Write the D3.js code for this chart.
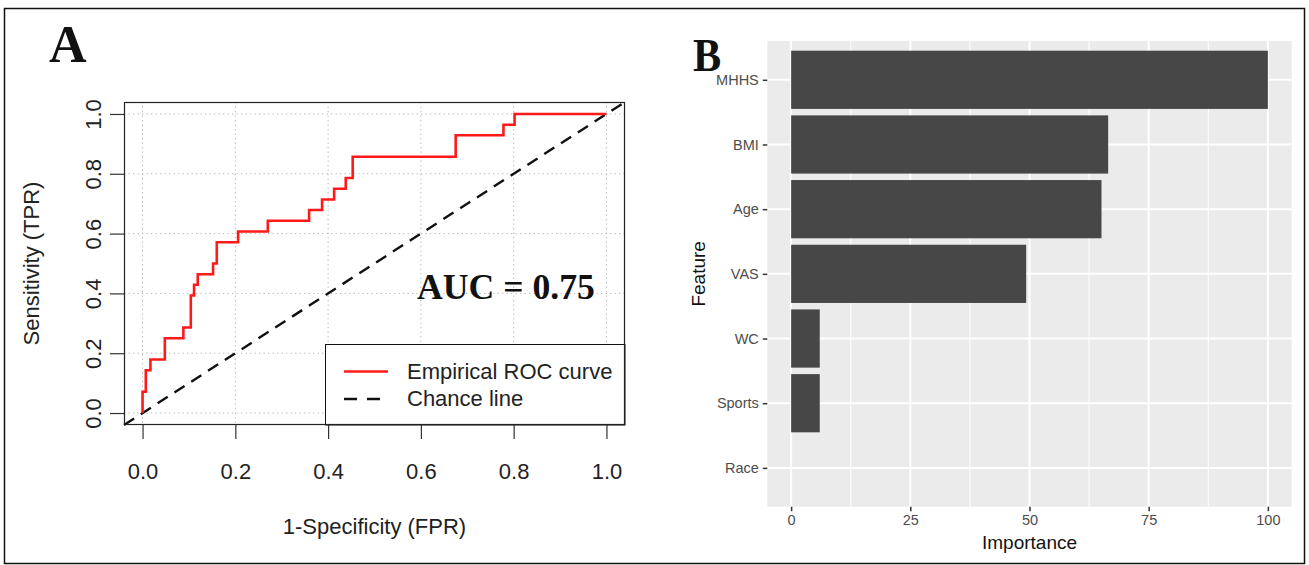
<!DOCTYPE html>
<html>
<head>
<meta charset="utf-8">
<script src="https://cdn.jsdelivr.net/npm/d3@7"></script>
<style>
  body { margin: 0; background: #fff; }
  text { font-family: "Liberation Sans", Arial, sans-serif; }
  .serif { font-family: "Liberation Serif", "Times New Roman", serif; font-weight: bold; }
</style>
</head>
<body>
<div id="chart"></div>
<script>
var width = 1309
var height = 565

// panel A: empirical ROC curve, corners of the step curve
var rocFpr = [0, 0, 0.007, 0.007, 0.017, 0.017, 0.048, 0.048, 0.088, 0.088, 0.104, 0.104,
  0.111, 0.111, 0.119, 0.119, 0.152, 0.152, 0.16, 0.16, 0.206, 0.206, 0.27, 0.27,
  0.359, 0.359, 0.387, 0.387, 0.413, 0.413, 0.438, 0.438, 0.453, 0.453, 0.675, 0.675,
  0.778, 0.778, 0.802, 0.802, 1]
var rocTpr = [0, 0.071, 0.071, 0.143, 0.143, 0.179, 0.179, 0.25, 0.25, 0.286, 0.286, 0.393,
  0.393, 0.429, 0.429, 0.464, 0.464, 0.5, 0.5, 0.571, 0.571, 0.607, 0.607, 0.643,
  0.643, 0.679, 0.679, 0.714, 0.714, 0.75, 0.75, 0.786, 0.786, 0.857, 0.857, 0.929,
  0.929, 0.964, 0.964, 1, 1]
var rocTicks = [0, 0.2, 0.4, 0.6, 0.8, 1.0]
var aucLabel = 'AUC = 0.75'
var legendLabels = ['Empirical ROC curve', 'Chance line']

// panel B: feature importance
var features = ['MHHS', 'BMI', 'Age', 'VAS', 'WC', 'Sports', 'Race']
var importance = [100, 66.5, 65.1, 49.3, 6.0, 6.0, 0]
var impTicks = [0, 25, 50, 75, 100]
var impMinor = [12.5, 37.5, 62.5, 87.5]

var svg = d3.select('#chart')
  .append('svg')
  .attr('width', width)
  .attr('height', height)

// outer frame
svg.append('rect')
  .attr('x', 4.5).attr('y', 8.5)
  .attr('width', 1300).attr('height', 555)
  .attr('fill', 'none')
  .attr('stroke', '#111')
  .attr('stroke-width', 1.5)

// ---------- panel A ----------
var boxA = {left: 124, right: 625, top: 102, bottom: 425}
var x = d3.scaleLinear().domain([-0.04, 1.04]).range([boxA.left, boxA.right])
var y = d3.scaleLinear().domain([-0.04, 1.04]).range([boxA.bottom, boxA.top])

var gA = svg.append('g')

// dotted grid
gA.selectAll('.vgrid')
  .data(rocTicks)
  .enter().append('line')
  .attr('x1', function(d) { return x(d) }).attr('x2', function(d) { return x(d) })
  .attr('y1', boxA.top).attr('y2', boxA.bottom)
  .attr('stroke', '#b5b5b5').attr('stroke-dasharray', '1.3,3.2')

gA.selectAll('.hgrid')
  .data(rocTicks)
  .enter().append('line')
  .attr('y1', function(d) { return y(d) }).attr('y2', function(d) { return y(d) })
  .attr('x1', boxA.left).attr('x2', boxA.right)
  .attr('stroke', '#b5b5b5').attr('stroke-dasharray', '1.3,3.2')

// chance line
gA.append('line')
  .attr('x1', x(-0.04)).attr('y1', y(-0.04))
  .attr('x2', x(1.04)).attr('y2', y(1.04))
  .attr('stroke', '#111')
  .attr('stroke-width', 2.4)
  .attr('stroke-dasharray', '12,8')

// ROC curve
var rocLine = d3.line()
  .x(function(d) { return x(d[0]) })
  .y(function(d) { return y(d[1]) })

gA.append('path')
  .datum(d3.zip(rocFpr, rocTpr))
  .attr('d', rocLine)
  .attr('fill', 'none')
  .attr('stroke', '#ff1a1a')
  .attr('stroke-width', 2.6)

// legend
var leg = gA.append('g')
leg.append('rect')
  .attr('x', 325.5).attr('y', 344.5)
  .attr('width', 299.5).attr('height', 80.5)
  .attr('fill', '#fff').attr('stroke', '#111').attr('stroke-width', 1)
leg.append('line')
  .attr('x1', 344).attr('x2', 388).attr('y1', 371.5).attr('y2', 371.5)
  .attr('stroke', '#ff1a1a').attr('stroke-width', 2.6)
leg.append('line')
  .attr('x1', 344).attr('x2', 388).attr('y1', 399).attr('y2', 399)
  .attr('stroke', '#111').attr('stroke-width', 2.4).attr('stroke-dasharray', '13,10')
leg.selectAll('.legtext')
  .data(legendLabels)
  .enter().append('text')
  .attr('x', 407)
  .attr('y', function(d, i) { return 379 + i * 27 })
  .attr('font-size', 22)
  .attr('fill', '#222')
  .text(function(d) { return d })

// box
gA.append('rect')
  .attr('x', boxA.left + 0.5).attr('y', boxA.top + 0.5)
  .attr('width', boxA.right - boxA.left - 1).attr('height', boxA.bottom - boxA.top - 1)
  .attr('fill', 'none').attr('stroke', '#222').attr('stroke-width', 1.2)

// axes
var xAxisA = gA.append('g')
  .attr('transform', 'translate(0,' + boxA.bottom + ')')
  .call(d3.axisBottom(x).tickValues(rocTicks).tickSize(14).tickFormat(d3.format('.1f')))
xAxisA.select('.domain').remove()
xAxisA.selectAll('line').attr('stroke', '#333').attr('stroke-width', 1.2)
xAxisA.selectAll('text')
  .attr('y', 54).attr('dy', 0)
  .attr('font-size', 22).attr('fill', '#222')
  .attr('font-family', '"Liberation Sans", Arial, sans-serif')

var yAxisA = gA.append('g')
  .attr('transform', 'translate(' + boxA.left + ',0)')
  .call(d3.axisLeft(y).tickValues(rocTicks).tickSize(14).tickFormat(d3.format('.1f')))
yAxisA.select('.domain').remove()
yAxisA.selectAll('line').attr('stroke', '#333').attr('stroke-width', 1.2)
yAxisA.selectAll('text')
  .attr('transform', 'rotate(-90)')
  .attr('x', 0).attr('y', -23).attr('dy', 0)
  .attr('text-anchor', 'middle')
  .attr('font-size', 22).attr('fill', '#222')
  .attr('font-family', '"Liberation Sans", Arial, sans-serif')

gA.append('text')
  .attr('x', (boxA.left + boxA.right) / 2).attr('y', 534)
  .attr('text-anchor', 'middle')
  .attr('font-size', 22).attr('fill', '#222')
  .text('1-Specificity (FPR)')

gA.append('text')
  .attr('transform', 'translate(39,' + (boxA.top + boxA.bottom) / 2 + ') rotate(-90)')
  .attr('text-anchor', 'middle')
  .attr('font-size', 22).attr('fill', '#222')
  .text('Sensitivity (TPR)')

gA.append('text')
  .attr('class', 'serif')
  .attr('x', 417).attr('y', 299)
  .attr('font-size', 35.7).attr('fill', '#111')
  .text(aucLabel)

svg.append('text')
  .attr('class', 'serif')
  .attr('x', 49).attr('y', 62)
  .attr('font-size', 52).attr('fill', '#111')
  .text('A')

// ---------- panel B ----------
var boxB = {left: 767.3, right: 1291.7, top: 41, bottom: 506.7}
var xb = d3.scaleLinear().domain([-5, 105]).range([boxB.left, boxB.right])
var yb = d3.scalePoint().domain(features).range([boxB.top, boxB.bottom]).padding(0.6)
var barH = yb.step() * 0.9

var gB = svg.append('g')

gB.append('rect')
  .attr('x', boxB.left).attr('y', boxB.top)
  .attr('width', boxB.right - boxB.left).attr('height', boxB.bottom - boxB.top)
  .attr('fill', '#ebebeb')

gB.selectAll('.minor')
  .data(impMinor)
  .enter().append('line')
  .attr('x1', function(d) { return xb(d) }).attr('x2', function(d) { return xb(d) })
  .attr('y1', boxB.top).attr('y2', boxB.bottom)
  .attr('stroke', '#fff').attr('stroke-width', 1)

gB.selectAll('.major')
  .data(impTicks)
  .enter().append('line')
  .attr('x1', function(d) { return xb(d) }).attr('x2', function(d) { return xb(d) })
  .attr('y1', boxB.top).attr('y2', boxB.bottom)
  .attr('stroke', '#fff').attr('stroke-width', 2)

gB.selectAll('.hmajor')
  .data(features)
  .enter().append('line')
  .attr('y1', function(d) { return yb(d) }).attr('y2', function(d) { return yb(d) })
  .attr('x1', boxB.left).attr('x2', boxB.right)
  .attr('stroke', '#fff').attr('stroke-width', 2)

gB.selectAll('.bar')
  .data(features)
  .enter().append('rect')
  .attr('x', xb(0))
  .attr('y', function(d) { return yb(d) - barH / 2 })
  .attr('width', function(d, i) { return xb(importance[i]) - xb(0) })
  .attr('height', barH)
  .attr('fill', '#474747')

var xAxisB = gB.append('g')
  .attr('transform', 'translate(0,' + boxB.bottom + ')')
  .call(d3.axisBottom(xb).tickValues(impTicks).tickSize(4.5).tickPadding(4))
xAxisB.select('.domain').remove()
xAxisB.selectAll('line').attr('stroke', '#333').attr('stroke-width', 1.5)
xAxisB.selectAll('text')
  .attr('font-size', 14.5).attr('fill', '#4d4d4d')
  .attr('font-family', '"Liberation Sans", Arial, sans-serif')

var yAxisB = gB.append('g')
  .attr('transform', 'translate(' + boxB.left + ',0)')
  .call(d3.axisLeft(yb).tickSize(4.5).tickPadding(4))
yAxisB.select('.domain').remove()
yAxisB.selectAll('line').attr('stroke', '#333').attr('stroke-width', 1.5)
yAxisB.selectAll('text')
  .attr('font-size', 14.5).attr('fill', '#4d4d4d')
  .attr('font-family', '"Liberation Sans", Arial, sans-serif')

gB.append('text')
  .attr('x', (boxB.left + boxB.right) / 2).attr('y', 549)
  .attr('text-anchor', 'middle')
  .attr('font-size', 19).attr('fill', '#111')
  .text('Importance')

gB.append('text')
  .attr('transform', 'translate(705,' + (boxB.top + boxB.bottom) / 2 + ') rotate(-90)')
  .attr('text-anchor', 'middle')
  .attr('font-size', 19).attr('fill', '#111')
  .text('Feature')

svg.append('text')
  .attr('class', 'serif')
  .attr('x', 693).attr('y', 71)
  .attr('font-size', 46).attr('fill', '#111')
  .attr('transform', 'translate(693,0) scale(0.92,1) translate(-693,0)')
  .text('B')
</script>
</body>
</html>
